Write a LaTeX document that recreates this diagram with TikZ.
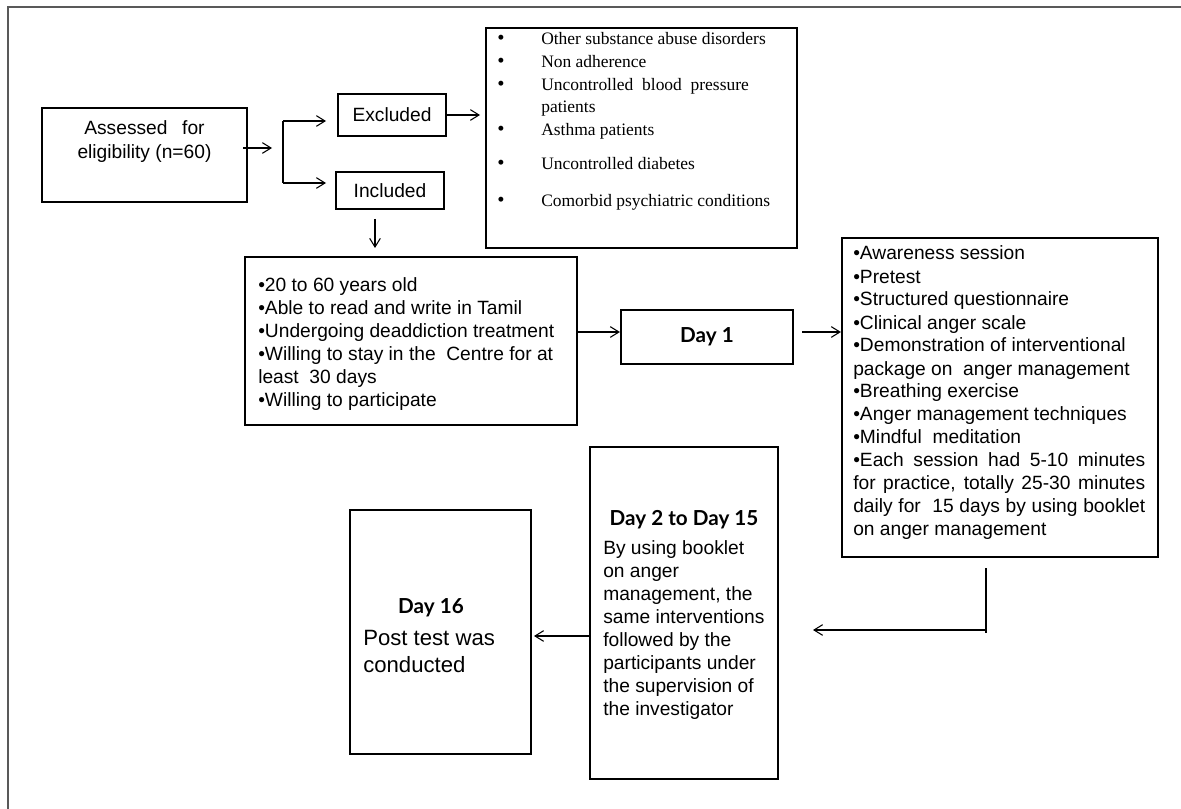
\documentclass[tikz,border=0pt]{standalone}
\usepackage{fontspec}
\setmainfont{Liberation Sans}
\newfontfamily\timesfont{Liberation Serif}
\newfontfamily\gillfont{Lato}
\usetikzlibrary{arrows.meta}
\newcommand\fArial{\fontsize{14.4}{17.25}\selectfont}
\newcommand\fAssess{\fontsize{14.4}{18}\selectfont}
\newcommand\fBig{\fontsize{16.6}{20.25}\selectfont}
\newcommand\fTimes{\timesfont\fontsize{13.1}{17}\selectfont}
\newcommand\fHead{\gillfont\bfseries\fontsize{15.5}{18}\selectfont}
\newcommand\bigbul{\smash{\fontsize{15.5}{17}\selectfont\textbullet}}
\tikzset{
  box/.style={draw=black, line width=1.6pt, inner sep=0pt, rectangle},
  txt/.style={inner sep=0pt, anchor=base west},
  ctxt/.style={inner sep=0pt, anchor=base},
  arr/.style={line width=0.8pt, -{Straight Barb[length=6.5pt,width=8pt]}},
  ln/.style={line width=0.8pt},
  frameline/.style={draw=black!65, line width=1.4pt}
}
\begin{document}
\begin{tikzpicture}[x=0.75pt,y=-0.75pt]
\useasboundingbox (0,0) rectangle (1181,809);
% outer frame
\coordinate (fbl) at (8,809);
\coordinate (ftl) at (8,7);
\coordinate (ftr) at (1181,7);
\draw[frameline] (fbl) -- (ftl) -- (ftr);

% boxes
\node[box, minimum width=153.75pt, minimum height=70.5pt] (assess) at (144.5,155) {};
\node[box, minimum width=81pt, minimum height=31.5pt, font=\fArial] (excl) at (392,115) {Excluded};
\node[box, minimum width=81pt, minimum height=27.75pt, font=\fArial] (incl) at (390,190.5) {Included};
\node[box, minimum width=233.25pt, minimum height=165pt] (exlist) at (641.5,138) {};
\node[box, minimum width=249pt, minimum height=126pt] (inlist) at (411,341) {};
\node[box, minimum width=129pt, minimum height=40.5pt, font=\fHead] (day1) at (707,337) {Day 1};
\node[box, minimum width=237pt, minimum height=239.25pt] (act) at (1000,397.5) {};
\node[box, minimum width=141pt, minimum height=249pt] (day2) at (684,613) {};
\node[box, minimum width=135.75pt, minimum height=183pt] (day16) at (440.5,632) {};

% texts
\node[ctxt, font=\fAssess] (assesstxt) at (144.5,135)
  {\begin{tabular}[t]{@{}c@{}}Assessed\hspace{7pt} for\\eligibility (n=60)\end{tabular}};

\node[txt, font=\fTimes] (exlisttxt) at (497,45)
  {\begin{tabular}[t]{@{}p{33pt}@{}l@{}}
  \bigbul & Other substance abuse disorders\\
  \bigbul & Non adherence\\
  \bigbul & Uncontrolled\ \ blood\ \ pressure\\
   & patients\\
  \bigbul & Asthma patients\\[8.5pt]
  \bigbul & Uncontrolled diabetes\\[10.7pt]
  \bigbul & Comorbid psychiatric conditions
  \end{tabular}};

\node[txt, font=\fArial] (inlisttxt) at (258,291.5)
  {\begin{tabular}[t]{@{}l@{}}
  •20 to 60 years old\\
  •Able to read and write in Tamil\\
  •Undergoing deaddiction treatment\\
  •Willing to stay in the\ \ Centre for at\\
  least\ \ 30 days\\
  •Willing to participate
  \end{tabular}};

\node[txt, font=\fArial] (acttxt) at (853,260)
  {\begin{tabular}[t]{@{}l@{}}
  •Awareness session\\
  •Pretest\\
  •Structured questionnaire\\
  •Clinical anger scale\\
  •Demonstration of interventional\\
  package on\ \ anger management\\
  •Breathing exercise\\
  •Anger management techniques\\
  •Mindful\ \ meditation\\
  \makebox[219pt][s]{•Each session had 5-10 minutes}\\
  \makebox[219pt][s]{for practice, totally 25-30 minutes}\\
  \makebox[219pt][s]{daily for\ \ 15 days by using booklet}\\
  on anger management
  \end{tabular}};

\node[ctxt, font=\fHead] (day2head) at (684,525) {Day 2 to Day 15};
\node[txt, font=\fArial] (day2txt) at (603,554)
  {\begin{tabular}[t]{@{}l@{}}
  By using booklet\\
  on anger\\
  management, the\\
  same interventions\\
  followed by the\\
  participants under\\
  the supervision of\\
  the investigator
  \end{tabular}};

\node[ctxt, font=\fHead] (day16head) at (431,613) {Day 16};
\node[txt, font=\fBig] (day16txt) at (363,645)
  {\begin{tabular}[t]{@{}l@{}}Post test was\\conducted\end{tabular}};

% connectors
\coordinate (a1s) at (243,148);
\coordinate (a1e) at (272,148);
\coordinate (vt) at (283,121);
\coordinate (vb) at (283,183);
\coordinate (et) at (326,121);
\coordinate (eb) at (326,183);
\draw[arr] (a1s) -- (a1e);
\draw[ln] (vt) -- (vb);
\draw[arr] (vt) -- (et);
\draw[arr] (vb) -- (eb);

\coordinate (x1) at (480,115);
\draw[arr] (excl.east) -- (x1);

\coordinate (i1) at (375,219);
\coordinate (i2) at (375,248);
\draw[arr] (i1) -- (i2);

\coordinate (p1) at (577,332);
\draw[arr] (p1) -- (p1 -| day1.west);

\coordinate (d1s) at (802,332);
\draw[arr] (d1s) -- (d1s -| act.west);

\coordinate (c1) at (986,568);
\coordinate (c2) at (986,630);
\coordinate (c3) at (813,630);
\coordinate (c4) at (986,633);
\draw[ln] (c2) -- (c4);
\draw[arr] (c1) -- (c2) -- (c3);

\coordinate (d2s) at (590,636);
\coordinate (d2e) at (534,636);
\draw[arr] (d2s) -- (d2e);
\end{tikzpicture}
\end{document}
